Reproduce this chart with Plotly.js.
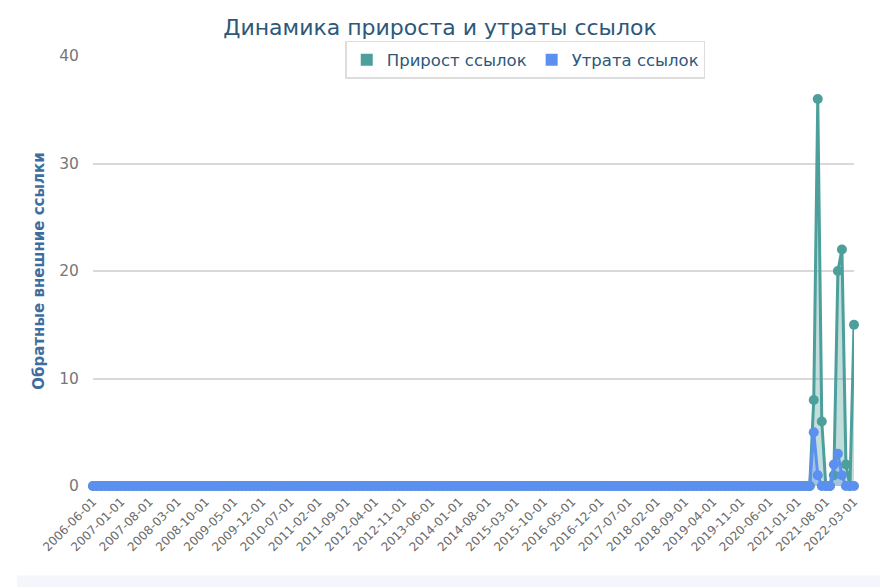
<!DOCTYPE html>
<html>
<head>
<meta charset="utf-8">
<script src="https://cdn.plot.ly/plotly-3.0.1.min.js"></script>
<style>
  html, body { margin: 0; padding: 0; background: #ffffff; }
  #chart { width: 880px; height: 587px; }
</style>
</head>
<body>
<div id="chart"></div>
<script>
// Monthly categories 2006-06-01 .. 2022-03-01
const startYear = 2006, startMonth = 6;
const endYear = 2022, endMonth = 3;
const months = [];
for (let y = startYear, m = startMonth; y < endYear || (y === endYear && m <= endMonth); ) {
    months.push(y + '-' + String(m).padStart(2, '0') + '-01');
    m++;
    if (m > 12) { m = 1; y++; }
}

// Every 7th month is labelled on the axis
const tickLabels = [
    '2006-06-01', '2007-01-01', '2007-08-01', '2008-03-01', '2008-10-01', '2009-05-01',
    '2009-12-01', '2010-07-01', '2011-02-01', '2011-09-01', '2012-04-01', '2012-11-01',
    '2013-06-01', '2014-01-01', '2014-08-01', '2015-03-01', '2015-10-01', '2016-05-01',
    '2016-12-01', '2017-07-01', '2018-02-01', '2018-09-01', '2019-04-01', '2019-11-01',
    '2020-06-01', '2021-01-01', '2021-08-01', '2022-03-01'
];

// Прирост ссылок (2006-06 .. 2022-03)
const gained = [
    0,0,0,0,0,0,0,0,0,0, 0,0,0,0,0,0,0,0,0,0,   // 2006-06 .. 2008-03
    0,0,0,0,0,0,0,0,0,0, 0,0,0,0,0,0,0,0,0,0,   // 2008-04 .. 2009-11
    0,0,0,0,0,0,0,0,0,0, 0,0,0,0,0,0,0,0,0,0,   // 2009-12 .. 2011-07
    0,0,0,0,0,0,0,0,0,0, 0,0,0,0,0,0,0,0,0,0,   // 2011-08 .. 2013-03
    0,0,0,0,0,0,0,0,0,0, 0,0,0,0,0,0,0,0,0,0,   // 2013-04 .. 2014-11
    0,0,0,0,0,0,0,0,0,0, 0,0,0,0,0,0,0,0,0,0,   // 2014-12 .. 2016-07
    0,0,0,0,0,0,0,0,0,0, 0,0,0,0,0,0,0,0,0,0,   // 2016-08 .. 2018-03
    0,0,0,0,0,0,0,0,0,0, 0,0,0,0,0,0,0,0,0,0,   // 2018-04 .. 2019-11
    0,0,0,0,0,0,0,0,0,0, 0,0,0,0,0,0,0,0,0,     // 2019-12 .. 2021-04
    8, 36, 6, 0, 0, 1, 20, 22, 2, 0, 15          // 2021-05 .. 2022-03
];

// Утрата ссылок (2006-06 .. 2022-03)
const lost = [
    0,0,0,0,0,0,0,0,0,0, 0,0,0,0,0,0,0,0,0,0,
    0,0,0,0,0,0,0,0,0,0, 0,0,0,0,0,0,0,0,0,0,
    0,0,0,0,0,0,0,0,0,0, 0,0,0,0,0,0,0,0,0,0,
    0,0,0,0,0,0,0,0,0,0, 0,0,0,0,0,0,0,0,0,0,
    0,0,0,0,0,0,0,0,0,0, 0,0,0,0,0,0,0,0,0,0,
    0,0,0,0,0,0,0,0,0,0, 0,0,0,0,0,0,0,0,0,0,
    0,0,0,0,0,0,0,0,0,0, 0,0,0,0,0,0,0,0,0,0,
    0,0,0,0,0,0,0,0,0,0, 0,0,0,0,0,0,0,0,0,0,
    0,0,0,0,0,0,0,0,0,0, 0,0,0,0,0,0,0,0,0,
    5, 1, 0, 0, 0, 2, 3, 1, 0, 0, 0
];

const teal = '#4c9f9b';
const blue = '#5b8ff0';

const data = [
    {
        x: months, y: gained, name: 'Прирост ссылок',
        type: 'scatter', mode: 'lines+markers',
        line: { color: teal, width: 3 },
        marker: { color: teal, size: 10 },
        fill: 'tozeroy', fillcolor: 'rgba(76,159,155,0.35)',
        cliponaxis: false, showlegend: false
    },
    {
        x: months, y: lost, name: 'Утрата ссылок',
        type: 'scatter', mode: 'lines+markers',
        line: { color: blue, width: 3 },
        marker: { color: blue, size: 10 },
        fill: 'tozeroy', fillcolor: 'rgba(91,143,240,0.3)',
        cliponaxis: false, showlegend: false
    },
    // legend swatches
    { x: [null], y: [null], type: 'bar', name: 'Прирост ссылок', marker: { color: teal } },
    { x: [null], y: [null], type: 'bar', name: 'Утрата ссылок', marker: { color: blue } }
];

const layout = {
    width: 880,
    height: 587,
    margin: { l: 93, r: 26, t: 56, b: 101 },
    paper_bgcolor: '#ffffff',
    plot_bgcolor: '#ffffff',
    font: { family: 'DejaVu Sans, sans-serif', color: '#666666' },
    title: {
        text: 'Динамика прироста и утраты ссылок',
        font: { size: 22, color: '#2e5879', family: 'DejaVu Sans, sans-serif' },
        x: 0.5, xanchor: 'center', y: 0.953, yanchor: 'middle'
    },
    showlegend: true,
    legend: {
        orientation: 'h',
        x: 0.568, xanchor: 'center',
        y: 1.035, yanchor: 'top',
        bgcolor: '#ffffff',
        bordercolor: '#dddddd',
        borderwidth: 1.5,
        font: { size: 16.5, color: '#2e5879' },
        itemwidth: 30
    },
    xaxis: {
        type: 'category',
        categoryorder: 'array',
        categoryarray: months,
        tickmode: 'array',
        tickvals: tickLabels,
        ticktext: tickLabels,
        tickangle: -45,
        tickfont: { size: 12, color: '#6a6a6a' },
        showgrid: false,
        zeroline: false,
        showline: false,
        ticks: 'outside',
        ticklen: 3,
        tickcolor: 'rgba(0,0,0,0)',
        range: [0, months.length - 1]
    },
    yaxis: {
        range: [0, 40],
        tickvals: [0, 10, 20, 30, 40],
        tickfont: { size: 15.5, color: '#777777' },
        showgrid: true,
        gridcolor: '#d9d9d9',
        gridwidth: 1.5,
        zeroline: false,
        ticks: 'outside',
        ticklen: 10,
        tickcolor: 'rgba(0,0,0,0)',
        title: {
            text: '<b>Обратные внешние ссылки</b>',
            font: { size: 15, color: '#3d6e9e' },
            standoff: 10
        }
    },
    shapes: [
        {
            type: 'rect', xref: 'paper', yref: 'paper',
            x0: -0.1, x1: 1.05, y0: -0.208, y1: -0.24,
            fillcolor: '#f4f6fb', line: { width: 0 }, layer: 'below'
        }
    ]
};

Plotly.newPlot('chart', data, layout, { displayModeBar: false, responsive: false });
</script>
</body>
</html>
